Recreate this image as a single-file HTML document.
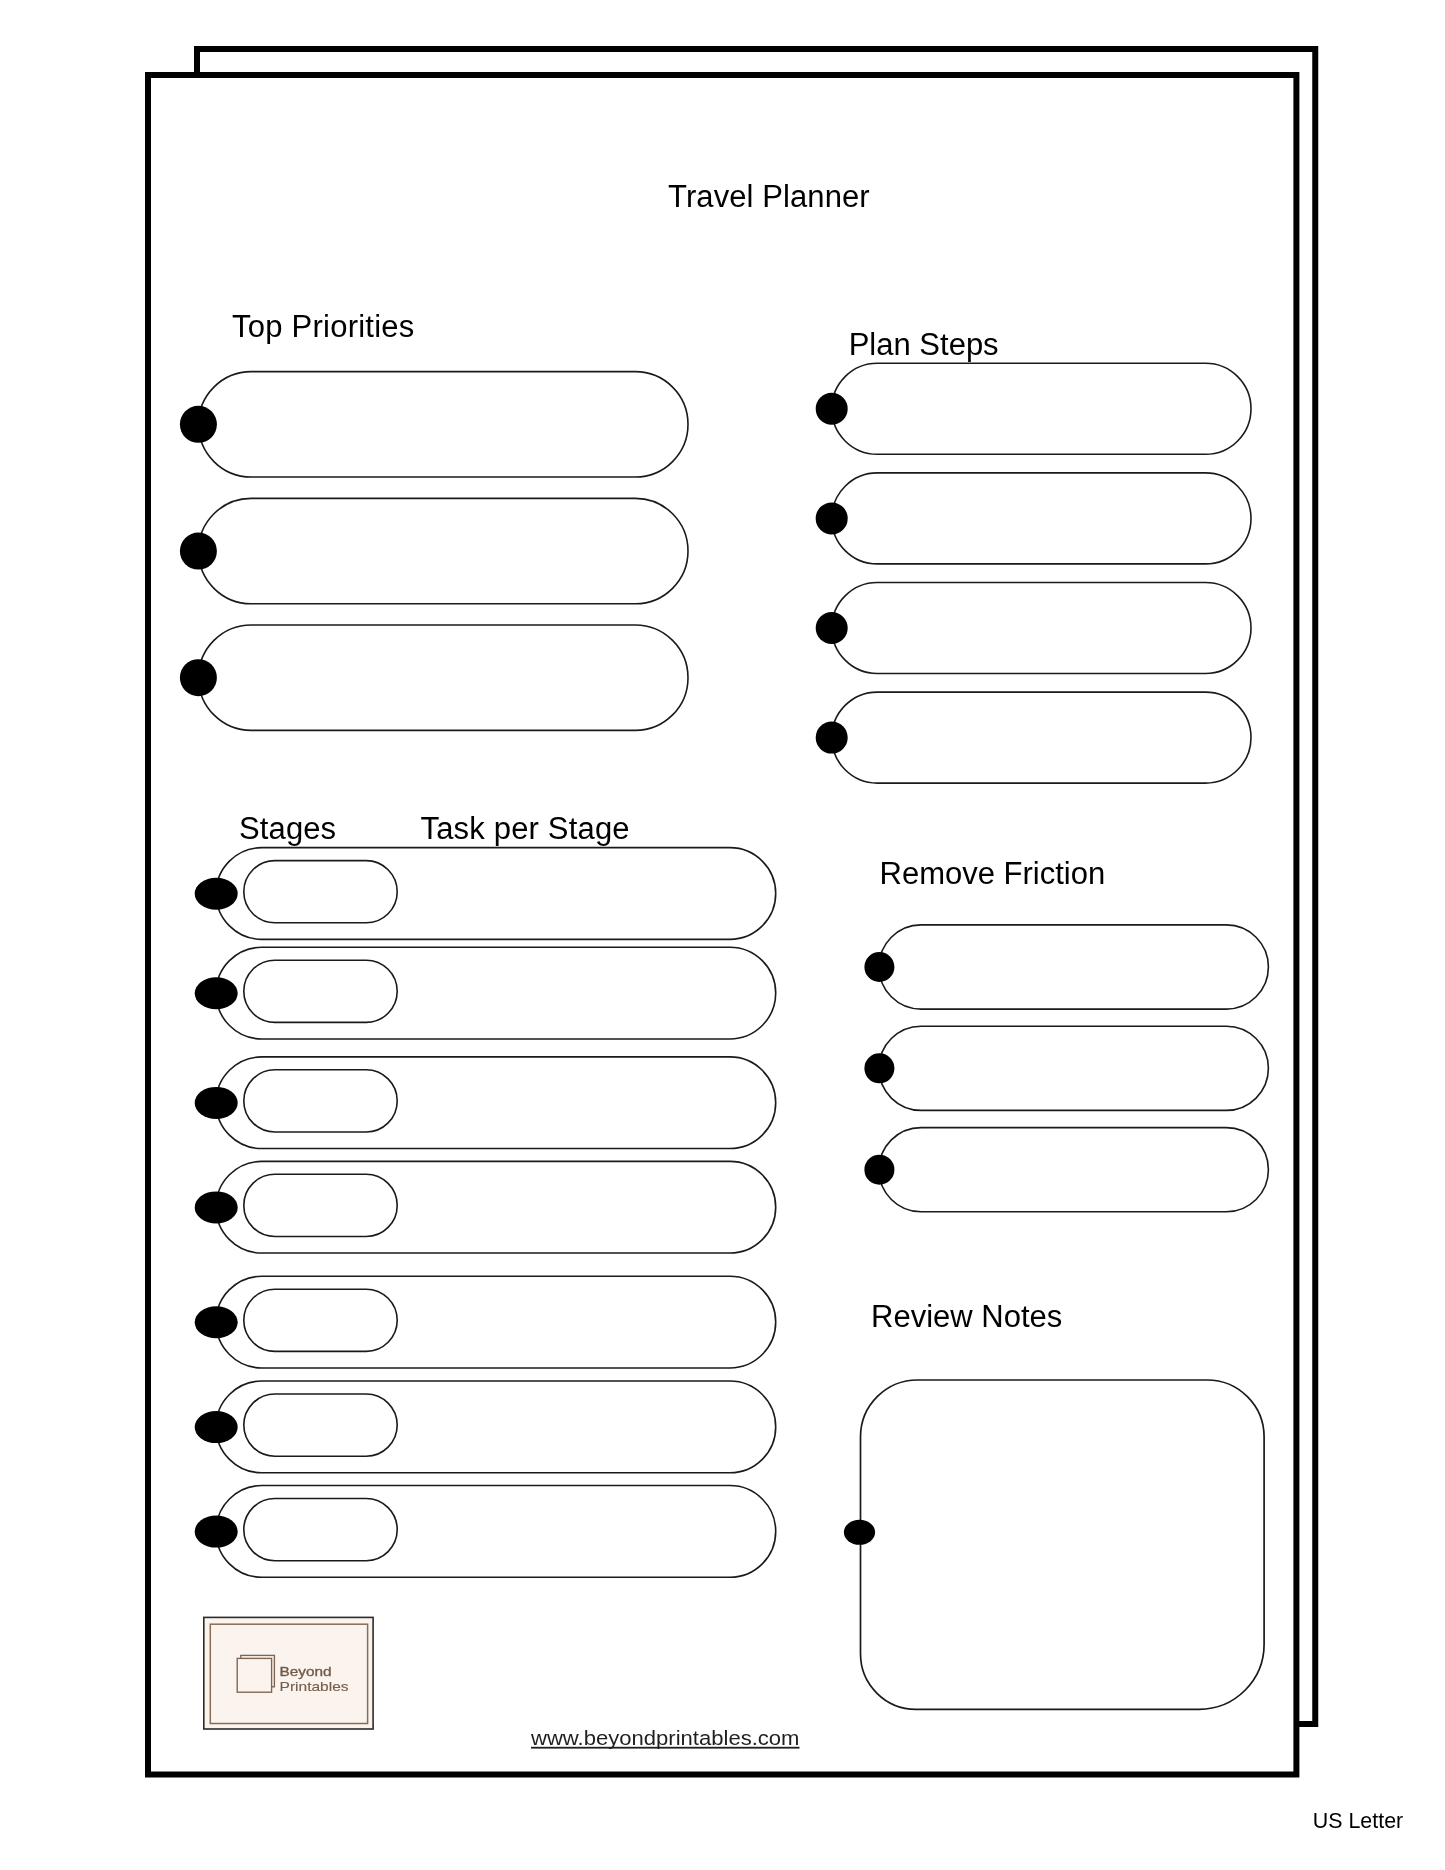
<!DOCTYPE html>
<html><head><meta charset="utf-8"><title>Travel Planner</title>
<style>html,body{margin:0;padding:0;background:#fff;} svg{display:block;} svg{will-change:transform;}</style></head>
<body><svg width="1445" height="1870" viewBox="0 0 1445 1870" font-family="Liberation Sans, sans-serif" fill="#000">
<rect width="1445" height="1870" fill="#fff"/>
<rect x="197" y="49" width="1118.25" height="1675" fill="#fff" stroke="#000" stroke-width="6"/>
<rect x="148" y="75" width="1148.4" height="1699.5" fill="#fff" stroke="#000" stroke-width="6"/>
<text x="668" y="207" font-size="31" textLength="201.65" lengthAdjust="spacing">Travel Planner</text>
<text x="232" y="337" font-size="31" textLength="182.3" lengthAdjust="spacing">Top Priorities</text>
<text x="848.7" y="354.6" font-size="31">Plan Steps</text>
<text x="239" y="839" font-size="31" textLength="97.1" lengthAdjust="spacing">Stages</text>
<text x="420.5" y="839" font-size="31" textLength="209.1" lengthAdjust="spacing">Task per Stage</text>
<text x="879.5" y="884" font-size="31">Remove Friction</text>
<text x="871" y="1327" font-size="31">Review Notes</text>
<text x="1312.8" y="1827.7" font-size="21.4">US Letter</text>
<rect x="198.50" y="371.65" width="489.50" height="105.40" rx="52.70" ry="52.70" fill="#fff" stroke="#1a1a1a" stroke-width="1.6"/>
<ellipse cx="198.40" cy="424.35" rx="18.50" ry="18.50" fill="#000"/>
<rect x="198.50" y="498.35" width="489.50" height="105.40" rx="52.70" ry="52.70" fill="#fff" stroke="#1a1a1a" stroke-width="1.6"/>
<ellipse cx="198.40" cy="551.05" rx="18.50" ry="18.50" fill="#000"/>
<rect x="198.50" y="624.95" width="489.50" height="105.40" rx="52.70" ry="52.70" fill="#fff" stroke="#1a1a1a" stroke-width="1.6"/>
<ellipse cx="198.40" cy="677.65" rx="18.50" ry="18.50" fill="#000"/>
<rect x="831.80" y="363.30" width="419.20" height="91.00" rx="45.50" ry="45.50" fill="#fff" stroke="#1a1a1a" stroke-width="1.6"/>
<ellipse cx="831.70" cy="408.80" rx="16.00" ry="16.00" fill="#000"/>
<rect x="831.80" y="472.90" width="419.20" height="91.00" rx="45.50" ry="45.50" fill="#fff" stroke="#1a1a1a" stroke-width="1.6"/>
<ellipse cx="831.70" cy="518.40" rx="16.00" ry="16.00" fill="#000"/>
<rect x="831.80" y="582.50" width="419.20" height="91.00" rx="45.50" ry="45.50" fill="#fff" stroke="#1a1a1a" stroke-width="1.6"/>
<ellipse cx="831.70" cy="628.00" rx="16.00" ry="16.00" fill="#000"/>
<rect x="831.80" y="692.10" width="419.20" height="91.00" rx="45.50" ry="45.50" fill="#fff" stroke="#1a1a1a" stroke-width="1.6"/>
<ellipse cx="831.70" cy="737.60" rx="16.00" ry="16.00" fill="#000"/>
<rect x="216.00" y="847.65" width="559.70" height="91.70" rx="45.85" ry="45.85" fill="#fff" stroke="#1a1a1a" stroke-width="1.6"/>
<rect x="243.80" y="860.60" width="153.40" height="62.20" rx="31.10" ry="31.10" fill="#fff" stroke="#1a1a1a" stroke-width="1.6"/>
<ellipse cx="216.20" cy="893.70" rx="21.50" ry="16.00" fill="#000"/>
<rect x="216.00" y="947.25" width="559.70" height="91.70" rx="45.85" ry="45.85" fill="#fff" stroke="#1a1a1a" stroke-width="1.6"/>
<rect x="243.80" y="960.20" width="153.40" height="62.20" rx="31.10" ry="31.10" fill="#fff" stroke="#1a1a1a" stroke-width="1.6"/>
<ellipse cx="216.20" cy="993.30" rx="21.50" ry="16.00" fill="#000"/>
<rect x="216.00" y="1056.85" width="559.70" height="91.70" rx="45.85" ry="45.85" fill="#fff" stroke="#1a1a1a" stroke-width="1.6"/>
<rect x="243.80" y="1069.80" width="153.40" height="62.20" rx="31.10" ry="31.10" fill="#fff" stroke="#1a1a1a" stroke-width="1.6"/>
<ellipse cx="216.20" cy="1102.90" rx="21.50" ry="16.00" fill="#000"/>
<rect x="216.00" y="1161.35" width="559.70" height="91.70" rx="45.85" ry="45.85" fill="#fff" stroke="#1a1a1a" stroke-width="1.6"/>
<rect x="243.80" y="1174.30" width="153.40" height="62.20" rx="31.10" ry="31.10" fill="#fff" stroke="#1a1a1a" stroke-width="1.6"/>
<ellipse cx="216.20" cy="1207.40" rx="21.50" ry="16.00" fill="#000"/>
<rect x="216.00" y="1276.25" width="559.70" height="91.70" rx="45.85" ry="45.85" fill="#fff" stroke="#1a1a1a" stroke-width="1.6"/>
<rect x="243.80" y="1289.20" width="153.40" height="62.20" rx="31.10" ry="31.10" fill="#fff" stroke="#1a1a1a" stroke-width="1.6"/>
<ellipse cx="216.20" cy="1322.30" rx="21.50" ry="16.00" fill="#000"/>
<rect x="216.00" y="1381.05" width="559.70" height="91.70" rx="45.85" ry="45.85" fill="#fff" stroke="#1a1a1a" stroke-width="1.6"/>
<rect x="243.80" y="1394.00" width="153.40" height="62.20" rx="31.10" ry="31.10" fill="#fff" stroke="#1a1a1a" stroke-width="1.6"/>
<ellipse cx="216.20" cy="1427.10" rx="21.50" ry="16.00" fill="#000"/>
<rect x="216.00" y="1485.55" width="559.70" height="91.70" rx="45.85" ry="45.85" fill="#fff" stroke="#1a1a1a" stroke-width="1.6"/>
<rect x="243.80" y="1498.50" width="153.40" height="62.20" rx="31.10" ry="31.10" fill="#fff" stroke="#1a1a1a" stroke-width="1.6"/>
<ellipse cx="216.20" cy="1531.60" rx="21.50" ry="16.00" fill="#000"/>
<rect x="879.00" y="924.90" width="389.40" height="84.20" rx="42.10" ry="42.10" fill="#fff" stroke="#1a1a1a" stroke-width="1.6"/>
<ellipse cx="879.40" cy="967.00" rx="15.00" ry="15.00" fill="#000"/>
<rect x="879.00" y="1026.20" width="389.40" height="84.20" rx="42.10" ry="42.10" fill="#fff" stroke="#1a1a1a" stroke-width="1.6"/>
<ellipse cx="879.40" cy="1068.30" rx="15.00" ry="15.00" fill="#000"/>
<rect x="879.00" y="1127.60" width="389.40" height="84.20" rx="42.10" ry="42.10" fill="#fff" stroke="#1a1a1a" stroke-width="1.6"/>
<ellipse cx="879.40" cy="1169.70" rx="15.00" ry="15.00" fill="#000"/>
<path d="M917.5,1380 H1207.1 C1238.5810999999999,1380 1264.1,1405.5189 1264.1,1437 V1644.3 C1264.1,1680.1995 1234.9995,1709.3 1199.1,1709.3 H916.0 C885.34735,1709.3 860.5,1684.45265 860.5,1653.8 V1437 C860.5,1405.5189 886.0189,1380 917.5,1380 Z" fill="#fff" stroke="#1a1a1a" stroke-width="1.7"/>
<ellipse cx="859.50" cy="1532.30" rx="15.60" ry="12.50" fill="#000"/>
<rect x="203.8" y="1617.4" width="169.3" height="111.6" fill="#fbf4ee" stroke="#2b2b2b" stroke-width="1.6"/>
<rect x="210.3" y="1624.2" width="157.3" height="99.3" fill="none" stroke="#8a6c55" stroke-width="1.5"/>
<rect x="240.8" y="1655.4" width="33.6" height="31.4" fill="#fbf4ee" stroke="#7f6450" stroke-width="1.35"/>
<rect x="237.2" y="1658.4" width="34.4" height="33.8" fill="#fbf4ee" stroke="#7f6450" stroke-width="1.35"/>
<text x="279.6" y="1676.2" font-size="13.3" fill="#725a49" stroke="#725a49" stroke-width="0.35" textLength="52" lengthAdjust="spacingAndGlyphs">Beyond</text>
<text x="279.6" y="1690.8" font-size="13.3" fill="#765e4c" stroke="#765e4c" stroke-width="0.15" textLength="69" lengthAdjust="spacingAndGlyphs">Printables</text>
<text x="531" y="1744.6" font-size="20.5" fill="#1f1f1f" textLength="268.5" lengthAdjust="spacingAndGlyphs">www.beyondprintables.com</text>
<rect x="531" y="1746.8" width="268.5" height="1.8" fill="#1f1f1f"/>
</svg></body></html>
